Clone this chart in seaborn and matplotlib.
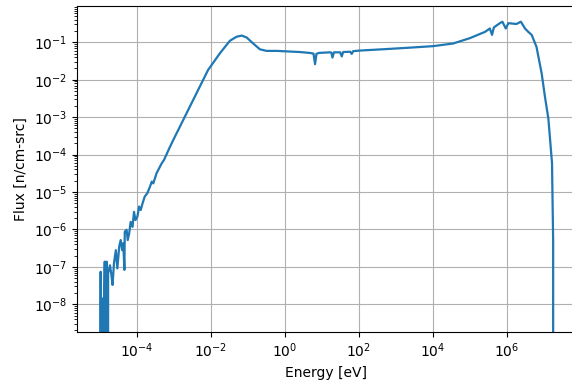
import numpy as np
import pandas as pd
import matplotlib
matplotlib.use("Agg")
import matplotlib.pyplot as plt
import seaborn as sns

# energy grid [eV] and flux [n/cm-src]
energy = [
    1.00e-5, 1.07e-5, 1.10e-5, 1.12e-5, 1.17e-5, 1.23e-5, 1.29e-5, 1.35e-5,
    1.38e-5, 1.45e-5, 1.55e-5, 1.62e-5, 1.70e-5, 1.91e-5, 2.09e-5, 2.24e-5,
    2.45e-5, 2.75e-5, 3.02e-5, 3.39e-5, 3.72e-5, 4.07e-5, 4.37e-5, 4.68e-5,
    4.79e-5, 5.37e-5, 5.75e-5, 6.31e-5, 6.92e-5, 7.76e-5, 8.51e-5, 9.33e-5,
    1.05e-4, 1.17e-4, 1.29e-4, 1.45e-4, 1.66e-4, 1.95e-4, 2.29e-4, 2.57e-4,
    2.82e-4, 3.47e-4, 4.79e-4, 5.50e-4, 7.94e-4, 9.77e-4, 2.00e-3, 4.17e-3,
    8.51e-3, 1.78e-2, 3.31e-2, 5.01e-2, 6.92e-2, 9.33e-2, 0.141, 0.214,
    0.324, 0.603, 2.57, 4.79, 6.0, 6.6, 7.2, 8.3,
    16.6, 18.2, 19.5, 21.4, 31.6, 34.7, 38.0, 58.9,
    64.6, 70.8, 102.0, 562.0, 2.4e3, 1.02e4, 3.55e4, 1.0e5,
    2.57e5, 3.47e5, 3.98e5, 4.47e5, 6.46e5, 7.59e5, 9.33e5, 1.10e6,
    1.82e6, 2.40e6, 3.09e6, 3.80e6, 4.68e6, 6.31e6, 8.71e6, 1.07e7,
    1.32e7, 1.45e7, 1.66e7, 1.70e7, 1.78e7, 1.82e7,
]
flux = [
    0.0, 7.4e-8, 0.0, 1.5e-8, 0.0, 1.2e-8, 0.0, 1.6e-8,
    1.38e-7, 0.0, 1.38e-7, 0.0, 6.8e-8, 1.1e-7, 6.0e-8, 3.3e-8,
    1.26e-7, 2.8e-7, 9.1e-8, 3.5e-7, 5.2e-7, 2.8e-7, 4.3e-7, 8.3e-8,
    8.7e-7, 9.8e-7, 5.2e-7, 7.9e-7, 1.6e-6, 1.17e-6, 2.95e-6, 1.78e-6,
    2.2e-6, 4.1e-6, 3.3e-6, 5.0e-6, 7.6e-6, 9.3e-6, 1.38e-5, 1.9e-5,
    1.7e-5, 3.2e-5, 5.9e-5, 7.2e-5, 1.6e-4, 2.45e-4, 1.02e-3, 4.4e-3,
    1.82e-2, 5.1e-2, 0.110, 0.141, 0.151, 0.135, 0.093, 0.065,
    0.059, 0.059, 0.055, 0.052, 0.050, 0.026, 0.049, 0.052,
    0.054, 0.053, 0.039, 0.054, 0.054, 0.042, 0.055, 0.056,
    0.049, 0.058, 0.060, 0.066, 0.072, 0.079, 0.093, 0.129,
    0.19, 0.234, 0.158, 0.251, 0.324, 0.355, 0.234, 0.324,
    0.309, 0.355, 0.234, 0.19, 0.158, 0.076, 0.0148, 3.5e-3,
    9.3e-4, 3.0e-4, 5.9e-5, 1.1e-5, 5.2e-7, 0.0,
]
x_ticks = [1e-4, 1e-2, 1e0, 1e2, 1e4, 1e6]
y_ticks = [1e-8, 1e-7, 1e-6, 1e-5, 1e-4, 1e-3, 1e-2, 1e-1]

df = pd.DataFrame({"energy": energy, "flux": flux})

fig = plt.figure(figsize=(5.72, 3.80), dpi=100)
ax = fig.add_axes([0.1346, 0.1263, 0.8706, 0.8579])

sns.lineplot(data=df, x="energy", y="flux", ax=ax,
             color="#1f77b4", linewidth=1.6,
             estimator=None, sort=False)

ax.set_xscale("log")
ax.set_yscale("log")
ax.set_xticks(x_ticks)
ax.set_yticks(y_ticks)
ax.set_xlim(10 ** -5.61, 10 ** 7.84)
ax.set_ylim(10 ** -8.74, 10 ** -0.03)
ax.grid(True, which="major", color="#b0b0b0", linewidth=0.8)
ax.set_xlabel("Energy [eV]")
ax.set_ylabel("Flux [n/cm-src]")

fig.savefig("out.png", dpi=100)
